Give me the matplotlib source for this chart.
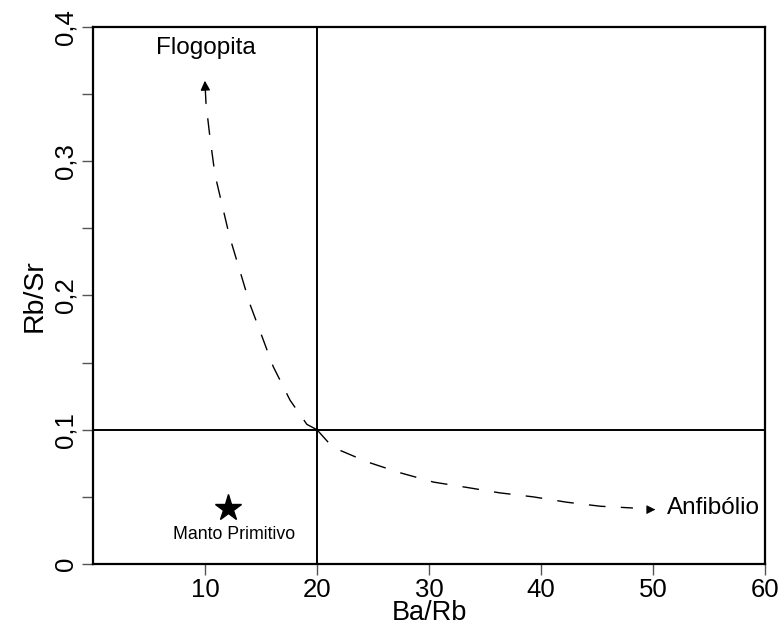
import matplotlib
matplotlib.use("Agg")
import matplotlib.pyplot as plt
import numpy as np

plt.rcParams['font.family'] = ['Liberation Sans', 'DejaVu Sans']

# Curve data (Ba/Rb, Rb/Sr)
flog_x = [20.0, 19.1, 17.6, 16.1, 14.0, 12.2, 10.9, 10.45, 10.1]
flog_y = [0.100, 0.104, 0.122, 0.147, 0.194, 0.244, 0.290, 0.318, 0.343]
flog_tip = (10.0, 0.360)

anf_x = [20.0, 21.4, 24.5, 27.4, 30.4, 33.4, 36.3, 39.3, 42.3, 45.3, 48.2]
anf_y = [0.100, 0.087, 0.076, 0.068, 0.061, 0.057, 0.053, 0.050, 0.046, 0.043, 0.0417]
anf_tip = (50.2, 0.0405)

star_x, star_y = 12.05, 0.042
x_ticks = [10, 20, 30, 40, 50, 60]
y_ticks = [0, 0.1, 0.2, 0.3, 0.4]
y_ticklabels = ['0', '0,1', '0,2', '0,3', '0,4']
y_minor = [0.05, 0.15, 0.25, 0.35]

fig = plt.figure(figsize=(7.8, 6.27), dpi=100)
ax = fig.add_axes([0.119, 0.1005, 0.862, 0.8565])
ax.set_xlim(0, 60)
ax.set_ylim(0, 0.4)

ax.axvline(20, color='black', lw=1.4)
ax.axhline(0.1, color='black', lw=1.4)

ax.plot(flog_x, flog_y, color='black', lw=1.0, dashes=(12, 11))
ax.plot(anf_x, anf_y, color='black', lw=1.0, dashes=(12, 11))
ax.annotate('', xy=flog_tip, xytext=(flog_x[-1], flog_y[-1]),
            arrowprops=dict(arrowstyle='-|>', color='black', lw=1.0,
                            mutation_scale=14, shrinkA=0, shrinkB=0))
ax.annotate('', xy=anf_tip, xytext=(anf_tip[0] - 0.6, anf_tip[1]),
            arrowprops=dict(arrowstyle='-|>', color='black', lw=0.5,
                            mutation_scale=14, shrinkA=0, shrinkB=0))

ax.plot([star_x], [star_y], marker='*', color='black', markersize=20, linestyle='none')
ax.text(12.6, 0.0216, 'Manto Primitivo', fontsize=12.8, ha='center', va='center')
ax.text(10.1, 0.384, 'Flogopita', fontsize=17.5, ha='center', va='center')
ax.text(51.2, 0.0417, 'Anfibólio', fontsize=17.5, ha='left', va='center')

ax.set_xticks(x_ticks)
ax.set_xticklabels([str(t) for t in x_ticks], fontsize=18.5)
ax.set_yticks(y_ticks)
ax.set_yticklabels(y_ticklabels, fontsize=18.5, rotation=90, va='center')
ax.set_yticks(y_minor, minor=True)
ax.tick_params(axis='both', which='both', direction='out', length=8, width=1.0, color='#555555')
ax.tick_params(axis='x', pad=2)
ax.tick_params(axis='y', pad=3)

ax.set_xlabel('Ba/Rb', fontsize=19.5, labelpad=-1)
ax.set_ylabel('Rb/Sr', fontsize=20.5, labelpad=4)

for s in ax.spines.values():
    s.set_linewidth(1.6)

fig.savefig('out.png', dpi=100)
